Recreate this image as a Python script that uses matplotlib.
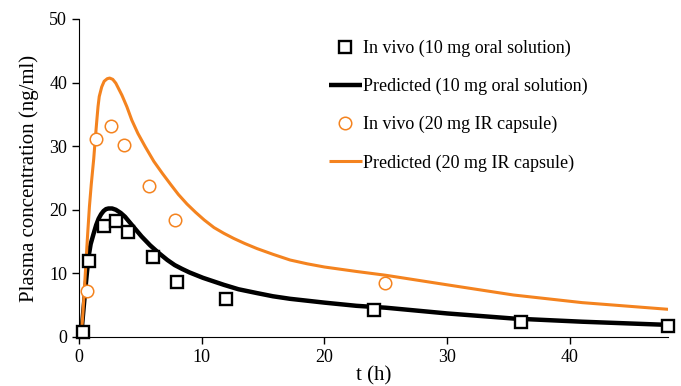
import numpy as np
import matplotlib
matplotlib.use("Agg")
import matplotlib.pyplot as plt

plt.rcParams['font.family'] = ['Liberation Serif', 'DejaVu Serif']

orange = '#F4831F'

# observed plasma concentrations
t_obs_10 = [0.33, 0.8, 2.0, 3.0, 4.0, 6.0, 8.0, 12.0, 24.0, 36.0, 48.0]
c_obs_10 = [0.8, 11.9, 17.4, 18.2, 16.5, 12.6, 8.6, 6.0, 4.3, 2.4, 1.8]

t_obs_20 = [0.65, 1.4, 2.6, 3.7, 5.7, 7.8, 24.9]
c_obs_20 = [7.3, 31.2, 33.2, 30.2, 23.8, 18.4, 8.5]

# model predictions
t_pred_10 = [0.16, 0.24, 0.35, 0.51, 0.65, 0.78, 0.95, 1.2, 1.4, 1.6, 1.8,
             2.0, 2.2, 2.4, 2.7, 3.0, 3.4, 3.75, 4.4, 5.1, 5.8, 6.5, 7.2,
             7.8, 8.4, 9.0, 10.1, 11.8, 13.0, 14.5, 15.8, 17.2, 20.0, 22.6, 25.0,
             30.0, 35.4, 41.0, 48.0]
c_pred_10 = [0.0, 1.6, 4.0, 7.4, 10.2, 12.6, 14.6, 16.3, 17.6, 18.6, 19.3,
             19.8, 20.1, 20.2, 20.2, 20.0, 19.5, 18.9, 17.4, 15.8, 14.4, 13.2, 12.1,
             11.3, 10.7, 10.15, 9.3, 8.2, 7.5, 6.9, 6.4, 6.0, 5.4, 4.9, 4.6,
             3.7, 2.9, 2.4, 1.9]

t_pred_20 = [0.17, 0.3, 0.4, 0.5, 0.6, 0.7, 0.85, 1.0, 1.1, 1.2, 1.3, 1.45,
             1.55, 1.65, 1.85, 2.05, 2.3, 2.5, 2.75, 3.0, 3.5, 3.9, 4.3, 4.8,
             5.4, 6.1, 6.8, 7.5, 8.1, 8.8, 9.5, 10.2, 11.0, 11.8, 12.6, 13.5,
             14.5, 15.8, 17.2, 18.6, 20.0, 22.6, 25.0, 30.0, 35.4, 41.0, 48.0]
c_pred_20 = [0.0, 3.2, 6.3, 9.5, 12.8, 16.0, 20.5, 24.0, 26.0, 28.0, 30.5, 34.0,
             36.2, 37.8, 39.3, 40.2, 40.6, 40.7, 40.5, 39.9, 38.0, 36.2, 34.1, 32.0,
             29.9, 27.6, 25.7, 23.9, 22.4, 20.9, 19.6, 18.4, 17.2, 16.3, 15.5, 14.7,
             13.9, 13.0, 12.1, 11.5, 11.0, 10.3, 9.7, 8.2, 6.6, 5.4, 4.35]

fig = plt.figure(figsize=(6.81, 3.86), dpi=100)
ax = fig.add_axes([0.116, 0.127, 0.865, 0.824])

l_pred10, = ax.plot(t_pred_10, c_pred_10, color='black', lw=3.2, zorder=2,
                    solid_capstyle='butt', solid_joinstyle='round')
l_pred20, = ax.plot(t_pred_20, c_pred_20, color=orange, lw=2.2, zorder=2,
                    solid_capstyle='butt', solid_joinstyle='round')
l_obs20, = ax.plot(t_obs_20, c_obs_20, 'o', ms=9, mfc='white', mec=orange,
                   mew=1.1, zorder=3, clip_on=False)
l_obs10, = ax.plot(t_obs_10, c_obs_10, 's', ms=8.8, mfc='white', mec='black',
                   mew=1.7, zorder=4, clip_on=False)

ax.set_xlim(0, 48)
ax.set_ylim(0, 50)
ax.set_xticks([0, 10, 20, 30, 40])
ax.set_yticks([0, 10, 20, 30, 40, 50])
ax.spines['top'].set_visible(False)
ax.spines['right'].set_visible(False)
ax.tick_params(direction='out', length=5, width=1, labelsize=13)
ax.set_xlabel('t (h)', fontsize=15, labelpad=0)
ax.set_ylabel('Plasma concentration (ng/ml)', fontsize=15, labelpad=7)

ax.legend([l_obs10, l_pred10, l_obs20, l_pred20],
          ['In vivo (10 mg oral solution)', 'Predicted (10 mg oral solution)',
           'In vivo (20 mg IR capsule)', 'Predicted (20 mg IR capsule)'],
          loc='upper left', bbox_to_anchor=(329 / 681, 1 - 40 / 386),
          bbox_transform=fig.transFigure, frameon=False, fontsize=13,
          labelspacing=1.15, handlelength=1.8, handletextpad=0.1,
          borderaxespad=0, borderpad=0)

fig.savefig('out.png', dpi=100)
